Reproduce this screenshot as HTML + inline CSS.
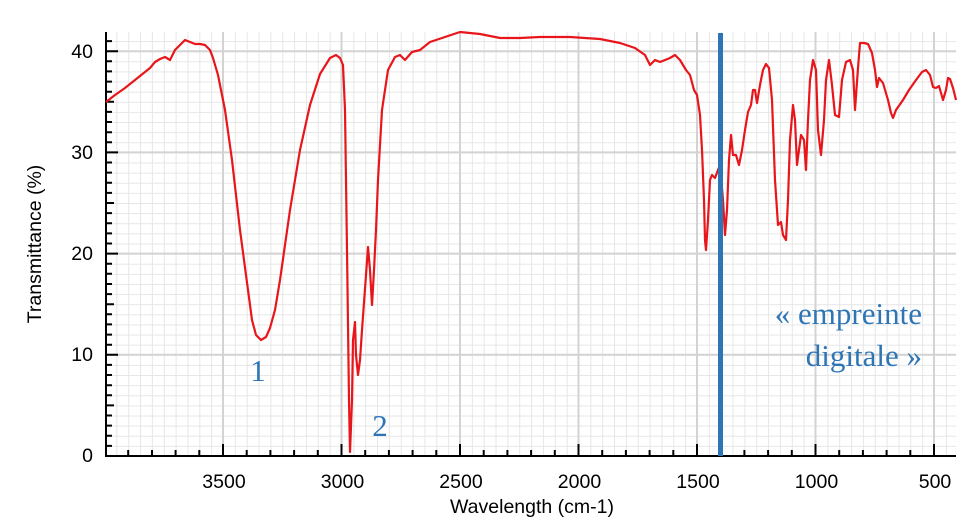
<!DOCTYPE html>
<html><head><meta charset="utf-8"><style>
html,body{margin:0;padding:0;background:#fff;}
svg{display:block;}
</style></head><body>
<svg width="977" height="532" viewBox="0 0 977 532" xmlns="http://www.w3.org/2000/svg">
<defs>
<pattern id="minor" x="0" y="0" width="11.85" height="10.12" patternUnits="userSpaceOnUse" patternTransform="translate(223,456)">
<path d="M0 0V10.12M0 0H11.85" stroke="#e6e6e6" stroke-width="2" fill="none"/>
</pattern>
</defs>
<rect x="106" y="32" width="850" height="424" fill="url(#minor)"/>
<g stroke="#d3d3d3" stroke-width="2">
<line x1="223" y1="32" x2="223" y2="456"/><line x1="341.5" y1="32" x2="341.5" y2="456"/>
<line x1="460" y1="32" x2="460" y2="456"/><line x1="578.5" y1="32" x2="578.5" y2="456"/>
<line x1="697" y1="32" x2="697" y2="456"/><line x1="815.5" y1="32" x2="815.5" y2="456"/>
<line x1="934" y1="32" x2="934" y2="456"/>
<line x1="106" y1="51.2" x2="956" y2="51.2"/><line x1="106" y1="152.4" x2="956" y2="152.4"/>
<line x1="106" y1="253.6" x2="956" y2="253.6"/><line x1="106" y1="354.8" x2="956" y2="354.8"/>
</g>
<g stroke="#000" stroke-width="2" fill="none">
<line x1="106" y1="32" x2="106" y2="457"/>
<line x1="105" y1="456" x2="956" y2="456"/>
</g>
<g stroke="#000" stroke-width="2">
<path d="M106 445.9h6M106 435.8h6M106 425.6h6M106 415.5h6M106 405.4h8M106 395.3h6M106 385.2h6M106 375h6M106 364.9h6M106 354.8h12M106 344.7h6M106 334.6h6M106 324.4h6M106 314.3h6M106 304.2h8M106 294.1h6M106 284h6M106 273.8h6M106 263.7h6M106 253.6h12M106 243.5h6M106 233.4h6M106 223.2h6M106 213.1h6M106 203h8M106 192.9h6M106 182.8h6M106 172.6h6M106 162.5h6M106 152.4h12M106 142.3h6M106 132.2h6M106 122h6M106 111.9h6M106 101.8h8M106 91.7h6M106 81.6h6M106 71.4h6M106 61.3h6M106 51.2h12M106 41.1h6"/>
</g>
<g stroke="#000" stroke-width="2">
<path d="M128.2 456v-6M152 456v-6M175.6 456v-6M199.3 456v-6M223 456v-12M246.7 456v-6M270.4 456v-6M294.1 456v-6M317.8 456v-6M341.5 456v-12M365.2 456v-6M388.9 456v-6M412.6 456v-6M436.3 456v-6M460 456v-12M483.7 456v-6M507.4 456v-6M531.1 456v-6M554.8 456v-6M578.5 456v-12M602.2 456v-6M625.9 456v-6M649.6 456v-6M673.3 456v-6M697 456v-12M720.7 456v-6M744.4 456v-6M768.1 456v-6M791.8 456v-6M815.5 456v-12M839.2 456v-6M862.9 456v-6M886.6 456v-6M910.3 456v-6M934 456v-12"/>
</g>
<g font-family="Liberation Sans, sans-serif" font-size="19.5" fill="#000">
<text x="93" y="462" text-anchor="end">0</text>
<text x="93" y="361" text-anchor="end">10</text>
<text x="93" y="260" text-anchor="end">20</text>
<text x="93" y="159" text-anchor="end">30</text>
<text x="93" y="58" text-anchor="end">40</text>
<g text-anchor="middle">
<text x="224" y="488">3500</text><text x="342.5" y="488">3000</text><text x="461" y="488">2500</text>
<text x="579.5" y="488">2000</text><text x="698" y="488">1500</text><text x="816.5" y="488">1000</text>
<text x="935" y="488">500</text>
<text x="532" y="513">Wavelength (cm-1)</text>
<text transform="translate(41,244) rotate(-90)">Transmittance (%)</text>
</g>
</g>
<polyline fill="none" stroke="#e8161b" stroke-width="2.2" stroke-linejoin="round" points="106,102 115,95 125,88 135,80 145,72 150,68 155,62 160,59 165,57 170,60 175,50 180,45 185,40 190,42 195,44 200,44 205,45 210,50 213,58 218,75 225,110 232,160 240,230 248,290 252,320 256,335 261,340 266,337 270,328 275,310 280,280 285,245 290,210 300,150 310,105 320,74 330,58 336,55 340,58 343,65 345,110 347,250 349,400 350,452 352,400 353,340 355,322 356,355 358,375 360,360 362,330 366,275 368,247 370,270 372,305 374,270 376,230 378,180 382,110 388,70 395,57 400,55 405,60 412,52 420,50 430,42 445,37 460,32 480,34 500,38 520,38 540,37 570,37 600,39 620,43 635,48 645,55 650,65 655,60 660,62 670,58 675,55 680,60 686,70 690,75 694,90 697,95 700,115 702,150 704,200 705,240 706,250 708,220 710,180 712,175 715,178 718,170 720,165 723,200 725,235 727,210 729,160 731,135 733,155 736,155 739,165 742,150 745,130 748,112 751,105 753,90 755,90 757,103 760,85 763,70 766,64 769,68 772,100 775,180 778,225 781,222 783,235 786,240 788,200 790,140 793,105 795,120 797,165 799,150 801,135 804,140 806,170 808,120 810,80 813,60 816,70 818,130 821,155 824,120 826,80 829,60 832,85 835,115 839,117 842,80 846,62 850,60 853,70 855,110 858,68 860,43 864,43 868,44 872,53 875,70 877,87 879,78 883,83 888,100 891,113 893,118 896,110 903,100 909,90 916,80 922,72 926,70 930,75 933,87 936,88 939,86 943,100 946,90 948,78 950,79 953,88 956,100"/>
<rect x="718" y="33" width="5" height="423" fill="#2e75b6"/>
<g font-family="Liberation Serif, serif" font-size="31" fill="#2e75b6">
<text x="922" y="324" text-anchor="end">« empreinte</text>
<text x="922" y="366" text-anchor="end">digitale »</text>
<text x="258" y="381" text-anchor="middle">1</text>
<text x="380" y="436" text-anchor="middle">2</text>
</g>
</svg>
</body></html>
